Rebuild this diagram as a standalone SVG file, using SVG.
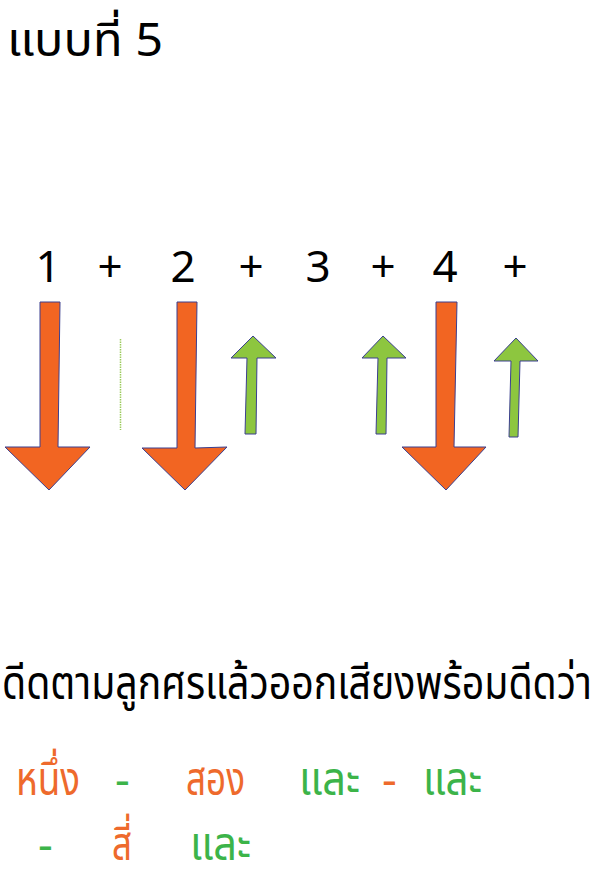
<svg xmlns="http://www.w3.org/2000/svg" width="605" height="889" viewBox="0 0 605 889">
<style>
text { font-family: "Noto Sans Thai", "Leelawadee UI", "Tahoma", "Noto Sans", "DejaVu Sans", sans-serif; font-size: 46px; fill: #000; }
.num { text-anchor: middle; font-size: 44px; }
.or { fill: #EE6A2C; }
.gr { fill: #3CB449; }
.down { fill: #F26522; stroke: #3B3F8F; stroke-width: 1; stroke-linejoin: miter; }
.up { fill: #8DC63F; stroke: #3B3F8F; stroke-width: 1; stroke-linejoin: miter; }
</style>
<rect width="605" height="889" fill="#fff"/>
<g id="title"><text x="7" y="56" font-size="50" textLength="156" lengthAdjust="spacingAndGlyphs">แบบที่ 5</text></g>
<g id="numbers">
<text class="num" x="48" y="282">1</text>
<text class="num" x="110" y="282">+</text>
<text class="num" x="183" y="282">2</text>
<text class="num" x="251" y="282">+</text>
<text class="num" x="318" y="282">3</text>
<text class="num" x="383" y="282">+</text>
<text class="num" x="445" y="282">4</text>
<text class="num" x="515" y="282">+</text>
</g>
<g id="arrows">
<polygon id="down1" class="down" points="40,302 60,302 58,447 90,447 49,490 5,447 40,447"/>
<line id="dotted" x1="120.5" y1="339" x2="120.5" y2="430" stroke="#9CCB5C" stroke-width="1.5" stroke-dasharray="1.5 1"/>
<polygon id="down2" class="down" points="177,302 197,302 195,448 227,447 185,490 142,448 177,448"/>
<polygon id="up1" class="up" points="253,336 276,358 257,358 256,434 245,434 247,358 231,358"/>
<polygon id="up2" class="up" points="383,336 406,358 387,358 386,434 376,434 378,358 362,358"/>
<polygon id="down3" class="down" points="436,302 457,302 454,447 486,447 446,490 402,447 436,447"/>
<polygon id="up3" class="up" points="516,338 538,361 520,361 518,437 509,437 511,361 494,361"/>
</g>
<g id="instruction"><text x="2" y="699" textLength="590" lengthAdjust="spacingAndGlyphs">ดีดตามลูกศรแล้วออกเสียงพร้อมดีดว่า</text></g>
<g id="words">
<text class="or" x="16" y="795" textLength="64" lengthAdjust="spacingAndGlyphs">หนึ่ง</text>
<text class="gr" x="115" y="795">-</text>
<text class="or" x="186" y="795" textLength="59" lengthAdjust="spacingAndGlyphs">สอง</text>
<text class="gr" x="299" y="795" textLength="61" lengthAdjust="spacingAndGlyphs">และ</text>
<text class="or" x="382" y="795">-</text>
<text class="gr" x="423" y="795" textLength="59" lengthAdjust="spacingAndGlyphs">และ</text>
<text class="gr" x="38" y="860">-</text>
<text class="or" x="112" y="860" textLength="20" lengthAdjust="spacingAndGlyphs">สี่</text>
<text class="gr" x="190" y="860" textLength="61" lengthAdjust="spacingAndGlyphs">และ</text>
</g>
</svg>
